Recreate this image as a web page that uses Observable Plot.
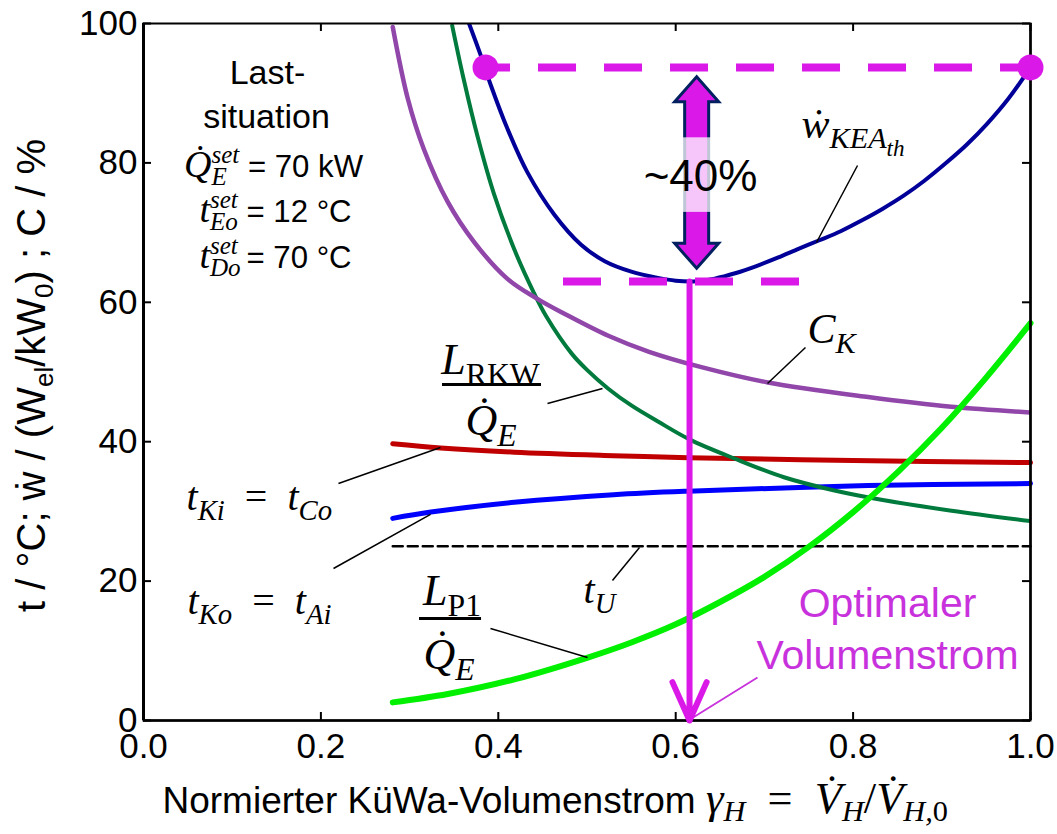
<!DOCTYPE html>
<html><head><meta charset="utf-8">
<script src="https://cdn.jsdelivr.net/npm/d3@7"></script>
<script src="https://cdn.jsdelivr.net/npm/@observablehq/plot@0.6"></script>
<style>html,body{margin:0;padding:0;background:#fff}svg{display:block}</style>
</head><body><div id="chart"></div>
<script>
// ---------- data ----------
const xTicks = [0, 0.2, 0.4, 0.6, 0.8, 1.0];
const yTicks = [0, 20, 40, 60, 80, 100];

// specific power w_KEA,th
const gammaKEA = [0.367,0.38,0.392,0.41,0.433,0.463,0.493,0.52,0.55,0.58,0.60,0.62,0.644,0.668,0.691,0.715,0.739,0.762,0.786,0.809,0.833,0.857,0.88,0.904,0.928,0.951,0.975,1.0];
const wKEA     = [100,95.5,91.0,85.0,78.6,72.6,68.3,65.9,64.4,63.5,63.1,63.0,63.4,64.2,65.2,66.4,67.7,68.9,70.2,71.7,73.4,75.3,77.4,79.9,82.6,85.6,89.2,93.7];
// C_K
const gammaCK = [0.281,0.298,0.316,0.343,0.373,0.41,0.444,0.474,0.524,0.57,0.629,0.704,0.817,0.911,1.0];
const cK      = [99.5,89.2,82.0,74.4,68.6,63.4,60.5,58.4,55.2,52.9,50.7,48.5,46.4,45.0,44.2];
// L_RKW / Q_E
const gammaRKW = [0.348,0.361,0.377,0.395,0.418,0.44,0.454,0.483,0.50,0.524,0.55,0.58,0.616,0.666,0.722,0.779,0.835,0.911,1.0];
const lRKW     = [99.7,92.0,83.6,75.6,67.6,61.4,58.0,52.6,50.3,47.6,45.2,42.9,40.3,37.6,34.9,33.0,31.6,30.1,28.6];
// t_Ki = t_Co
const gammaKi = [0.281,0.335,0.418,0.53,0.614,0.8,1.0];
const tKi     = [39.7,39.1,38.5,38.0,37.7,37.3,37.0];
// t_Ko = t_Ai
const gammaKo = [0.281,0.324,0.418,0.53,0.614,0.817,1.0];
const tKo     = [29.0,29.9,31.3,32.4,32.9,33.7,34.0];
// t_U
const gammaU = [0.281, 1.0];
const tU     = [25, 25];
// L_P1 / Q_E
const gammaP1 = [0.281,0.343,0.418,0.5,0.55,0.6,0.65,0.7,0.75,0.8,0.85,0.9,0.95,1.0];
const lP1     = [2.6,3.8,5.9,9.0,11.2,13.8,17.0,20.6,24.9,29.9,35.6,42.0,49.2,57.0];

// ---------- annotation placement ----------
const wMax = wKEA[wKEA.length - 1];
const wMin = d3.min(wKEA);
const optGamma = 0.6156;          // optimal flow
const leftHit = 0.3856;           // where w_KEA crosses wMax again
const gapArrow = {x: 0.6242, top: 92.3, bottom: 64.8, boxTop: 83.6, boxBottom: 72.9};

const MAG = "#DA18E8";
const S = "'Liberation Sans', Arial, sans-serif";
const M = "'Liberation Serif', 'Times New Roman', serif";

const plainLabels = [
  {x: 0.1398, y: 91.39, text: "Last-"},
  {x: 0.1387, y: 84.94, text: "situation"}
];
const optLabels = [
  {x: 0.8388, y: 14.78, text: "Optimaler"},
  {x: 0.8388, y: 7.46, text: "Volumenstrom"}
];
const pctLabel = [{x: 0.628, y: 76.04, text: "~40%"}];

const richMid = [
  {x: 0.1466, y: 77.91, size: 38, runs: [["Q\u0307","m"],["E","bi"],["set","pi",1],[" = 70 kW","n"]]},
  {x: 0.1488, y: 71.45, size: 38, runs: [["t","m"],["Eo","bi"],["set","pi",1],[" = 12 °C","n"]]},
  {x: 0.1488, y: 64.85, size: 38, runs: [["t","m"],["Do","bi"],["set","pi",1],[" = 70 °C","n"]]},
  {x: 0.3912, y: 49.78, size: 44, runs: [["L","m"],["RKW","B"]]},
  {x: 0.3918, y: 40.89, size: 44, runs: [["Q\u0307","m"],["E","b"]]},
  {x: 0.3478, y: 16.50, size: 44, runs: [["L","m"],["P1","B"]]},
  {x: 0.3444, y: 7.46, size: 44, runs: [["Q\u0307","m"],["E","b"]]}
];
const richStart = [
  {x: 0.7418, y: 83.64, size: 42, runs: [["w\u0307","m"],["KEA","b"],["th","bb"]]},
  {x: 0.7486, y: 54.23, size: 42, runs: [["C","m"],["K","b"]]},
  {x: 0.0485, y: 30.13, size: 40, runs: [["t","m"],["Ki","b"],["\u2002=\u2002","r"],["t","m"],["Co","b"]]},
  {x: 0.0496, y: 15.35, size: 40, runs: [["t","m"],["Ko","b"],["\u2002=\u2002","r"],["t","m"],["Ai","b"]]},
  {x: 0.4961, y: 16.79, size: 40, runs: [["t","m"],["U","b"]]},
  {x: 0.0214, y: -13.3, size: 37, runs: [["Normierter KüWa-Volumenstrom ","s"],["γ","mx"],["H","bx"],["\u2002=\u2002","rx"],["V\u0307","mx"],["H","bx"],["/","rx"],["V\u0307","mx"],["H,","bx"],["0","Bx"]]}
];
const yLabel = [{x: -0.1116, y: 49.5, size: 40, runs: [["t / °C; w\u0307 / (W","s"],["el","ss"],["/kW","s"],["0","ss"],[") ; C / %","s"]]}];

const fracBars = [
  {x1: 0.3371, x2: 0.4487, y: 48.21},
  {x1: 0.3112, x2: 0.3811, y: 14.63}
];
const leaders = [
  {x1: 0.805, y1: 79.63, x2: 0.7587, y2: 68.58},
  {x1: 0.7463, y1: 53.51, x2: 0.7035, y2: 48.35},
  {x1: 0.4555, y1: 45.48, x2: 0.5175, y2: 47.63},
  {x1: 0.2198, y1: 34.0, x2: 0.3348, y2: 39.17},
  {x1: 0.2142, y1: 21.81, x2: 0.3236, y2: 29.56},
  {x1: 0.5287, y1: 20.09, x2: 0.5592, y2: 24.82},
  {x1: 0.3912, y1: 13.2, x2: 0.5006, y2: 9.04}
];
const optLeader = [{x1: 0.6922, y1: 6.17, x2: 0.6178, y2: 0.29}];

const runStyle = {
  s:  {f: S, i: false, k: 1, sh: 0},
  ss: {f: S, i: false, k: 0.65, sh: 0.22},
  n:  {f: S, i: false, k: 0.82, sh: 0},
  m:  {f: M, i: true, k: 1, sh: 0},
  r:  {f: M, i: false, k: 1, sh: 0},
  b:  {f: M, i: true, k: 0.72, sh: 0.25},
  B:  {f: M, i: false, k: 0.72, sh: 0.25},
  bi: {f: M, i: true, k: 0.66, sh: 0.2},
  pi: {f: M, i: true, k: 0.66, sh: -0.38},
  bb: {f: M, i: true, k: 0.55, sh: 0.45},
  mx: {f: M, i: true, k: 1.2, sh: 0},
  rx: {f: M, i: false, k: 1.2, sh: 0},
  bx: {f: M, i: true, k: 0.82, sh: 0.2},
  Bx: {f: M, i: false, k: 0.82, sh: 0.2}
};
const plain = d => d.runs.map(r => r[0]).join("");
const CURVE = "catmull-rom";

const plot = Plot.plot({
  width: 1057, height: 834,
  marginLeft: 143, marginRight: 27, marginTop: 23, marginBottom: 114,
  style: {fontFamily: S, fontSize: "35px", background: "white", color: "black"},
  x: {domain: [0, 1], ticks: 5, tickSize: 0, tickPadding: 13, tickFormat: d3.format(".1f"), label: null},
  y: {domain: [0, 100], ticks: 5, tickSize: 0, tickPadding: 6, label: null},
  marks: [
    Plot.line(tU, {x: gammaU, y: tU, stroke: "black", strokeWidth: 2.5, strokeDasharray: "10,5"}),
    Plot.line(tKi, {x: gammaKi, y: tKi, stroke: "#C00000", strokeWidth: 5, curve: CURVE}),
    Plot.line(tKo, {x: gammaKo, y: tKo, stroke: "#0000FF", strokeWidth: 5, curve: CURVE}),
    Plot.line(lRKW, {x: gammaRKW, y: lRKW, stroke: "#007A3D", strokeWidth: 4, curve: CURVE, clip: true}),
    Plot.line(cK, {x: gammaCK, y: cK, stroke: "#9146AA", strokeWidth: 4.5, curve: CURVE, clip: true}),
    Plot.line(wKEA, {x: gammaKEA, y: wKEA, stroke: "#000099", strokeWidth: 4, curve: CURVE, clip: true}),
    Plot.line(lP1, {x: gammaP1, y: lP1, stroke: "#00F000", strokeWidth: 6, curve: CURVE}),
    // leader lines and fraction bars
    Plot.link(leaders, {x1: "x1", y1: "y1", x2: "x2", y2: "y2", stroke: "black", strokeWidth: 1.5}),
    Plot.ruleY(fracBars, {x1: "x1", x2: "x2", y: "y", stroke: "black", strokeWidth: 3}),
    // frame and inward ticks
    Plot.frame({stroke: "black", strokeWidth: 2}),
    Plot.ruleX([0], {stroke: "black", strokeWidth: 3}),
    Plot.ruleX([1], {stroke: "black", strokeWidth: 2.5}),
    Plot.ruleY([0], {stroke: "black", strokeWidth: 2.5}),
    Plot.tickX(xTicks, {x: d => d, insetTop: 689, stroke: "black", strokeWidth: 2}),
    Plot.tickX(xTicks, {x: d => d, insetBottom: 689, stroke: "black", strokeWidth: 2}),
    Plot.tickY(yTicks, {y: d => d, insetRight: 879, stroke: "black", strokeWidth: 2}),
    Plot.tickY(yTicks, {y: d => d, insetLeft: 879, stroke: "black", strokeWidth: 2}),
    // texts
    Plot.text(plainLabels, {x: "x", y: "y", text: "text", fontSize: 34, lineAnchor: "bottom", textAnchor: "middle", fill: "black"}),
    Plot.text(optLabels, {x: "x", y: "y", text: "text", fontSize: 41, lineAnchor: "bottom", textAnchor: "middle", fill: "#C832DC"}),
    Plot.text(richMid, {x: "x", y: "y", text: plain, lineAnchor: "bottom", textAnchor: "middle", fill: "black"}),
    Plot.text(richStart, {x: "x", y: "y", text: plain, lineAnchor: "bottom", textAnchor: "start", fill: "black"}),
    Plot.text(yLabel, {x: "x", y: "y", text: plain, lineAnchor: "bottom", textAnchor: "middle", rotate: -90, fill: "black"}),
    // magenta annotations
    Plot.ruleY([wMax], {x1: leftHit, x2: 1, stroke: MAG, strokeWidth: 8, strokeDasharray: "38,28", strokeDashoffset: 13}),
    Plot.ruleY([wMin], {x1: 0.4735, x2: 0.7407, stroke: MAG, strokeWidth: 8, strokeDasharray: "38,28"}),
    Plot.dot([leftHit, 1], {x: d => d, y: wMax, r: 13, fill: MAG}),
    Plot.link(optLeader, {x1: "x1", y1: "y1", x2: "x2", y2: "y2", stroke: "#C832DC", strokeWidth: 1.8}),
    Plot.arrow([optGamma], {x1: d => d, x2: d => d, y1: wMin, y2: 0, stroke: MAG, strokeWidth: 6, headLength: 10.5, headAngle: 48, strokeLinecap: "round", strokeLinejoin: "round"}),
    Plot.text(pctLabel, {x: "x", y: "y", text: "text", fontSize: 44, lineAnchor: "bottom", textAnchor: "middle", fill: "black"})
  ]
});
document.getElementById("chart").appendChild(plot);

const done = new Set();
function findText(str) {
  const all = plot.querySelectorAll("text");
  for (const el of all) if (!done.has(el) && el.textContent === str) { done.add(el); return el; }
  return null;
}
function richify(list) {
  for (const d of list) {
    const el = findText(plain(d));
    if (!el) continue;
    while (el.firstChild) el.removeChild(el.firstChild);
    let level = 0, prev = null;
    for (const [str, kind, back] of d.runs) {
      const st = runStyle[kind];
      const t = document.createElementNS("http://www.w3.org/2000/svg", "tspan");
      t.textContent = str;
      t.setAttribute("font-family", st.f);
      t.setAttribute("font-style", st.i ? "italic" : "normal");
      t.setAttribute("font-size", d.size * st.k);
      const shift = st.sh * d.size;
      if (shift !== level) t.setAttribute("dy", shift - level);
      level = shift;
      if (back && prev) t.setAttribute("dx", -prev.getComputedTextLength());
      el.appendChild(t); prev = t;
    }
  }
}
richify(richMid);
richify(richStart);
richify(yLabel);

// double-headed block arrow with translucent box behind "~40%"
const sx = plot.scale("x"), sy = plot.scale("y");
const cx = sx.apply(gapArrow.x), yT = sy.apply(gapArrow.top), yB = sy.apply(gapArrow.bottom);
const hw = 22, sw = 12, hl = 25;
const pts = [[cx, yT], [cx + hw, yT + hl], [cx + sw, yT + hl], [cx + sw, yB - hl], [cx + hw, yB - hl], [cx, yB],
             [cx - hw, yB - hl], [cx - sw, yB - hl], [cx - sw, yT + hl], [cx - hw, yT + hl]];
const pctText = findText("~40%");
let anchorNode = pctText;
while (anchorNode && anchorNode.parentNode !== plot) anchorNode = anchorNode.parentNode;
const arrowG = document.createElementNS("http://www.w3.org/2000/svg", "g");
plot.insertBefore(arrowG, anchorNode || null);
const ag = d3.select(arrowG);
ag.append("polygon").attr("points", pts.map(p => p.join(",")).join(" "))
  .attr("fill", MAG).attr("stroke", "#002060").attr("stroke-width", 3).attr("stroke-linejoin", "miter");
ag.append("rect").attr("x", cx - 55).attr("width", 110)
  .attr("y", sy.apply(gapArrow.boxTop)).attr("height", sy.apply(gapArrow.boxBottom) - sy.apply(gapArrow.boxTop))
  .attr("fill", "white").attr("fill-opacity", 0.75);
</script></body></html>
